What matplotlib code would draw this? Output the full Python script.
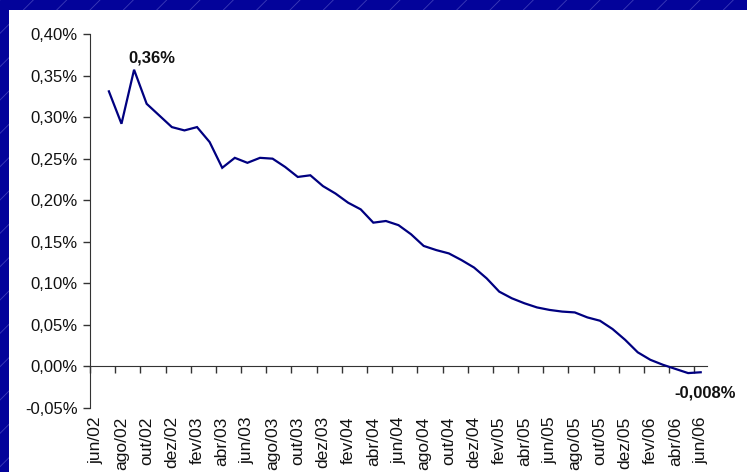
import numpy as np
import matplotlib
matplotlib.use("Agg")
import matplotlib.pyplot as plt
from matplotlib.patches import Rectangle
from matplotlib.ticker import FuncFormatter

plt.rcParams['font.family'] = ['Liberation Sans', 'DejaVu Sans']

# months jun/02 .. jun/06 (first month has no value)
months = ['jun/02', 'jul/02', 'ago/02', 'set/02', 'out/02', 'nov/02', 'dez/02',
          'jan/03', 'fev/03', 'mar/03', 'abr/03', 'mai/03', 'jun/03', 'jul/03',
          'ago/03', 'set/03', 'out/03', 'nov/03', 'dez/03', 'jan/04', 'fev/04',
          'mar/04', 'abr/04', 'mai/04', 'jun/04', 'jul/04', 'ago/04', 'set/04',
          'out/04', 'nov/04', 'dez/04', 'jan/05', 'fev/05', 'mar/05', 'abr/05',
          'mai/05', 'jun/05', 'jul/05', 'ago/05', 'set/05', 'out/05', 'nov/05',
          'dez/05', 'jan/06', 'fev/06', 'mar/06', 'abr/06', 'mai/06', 'jun/06']

# values in %
rate = [None, 0.331, 0.292, 0.357, 0.316, 0.302, 0.288, 0.284, 0.288, 0.270,
        0.239, 0.251, 0.245, 0.251, 0.250, 0.240, 0.228, 0.230, 0.217, 0.208,
        0.197, 0.189, 0.173, 0.175, 0.170, 0.159, 0.145, 0.140, 0.136, 0.128,
        0.119, 0.106, 0.090, 0.082, 0.076, 0.071, 0.068, 0.066, 0.065, 0.059,
        0.055, 0.045, 0.032, 0.017, 0.008, 0.002, -0.003, -0.008, -0.007]

max_label = '0,36%'
min_label = '-0,008%'

W, H = 747, 472
fig = plt.figure(figsize=(W / 100, H / 100), dpi=100)

# blue slide background with faint diagonal stripes
plt.rcParams['hatch.linewidth'] = 0.6
bg = Rectangle((0, 0), 1, 1, transform=fig.transFigure, facecolor='#03039a',
               edgecolor='#3c3cb8', hatch='/', linewidth=0, zorder=-10)
fig.patches.append(bg)
panel = Rectangle((9 / W, 0), 1, 1 - 10 / H, transform=fig.transFigure,
                  facecolor='white', edgecolor='none', zorder=-9)
fig.patches.append(panel)

ax = fig.add_axes([90 / W, (H - 408) / H, (707 - 90) / W, (408 - 34) / H])
ax.set_facecolor('none')

x = np.arange(len(months))
y = np.array(rate, dtype=float)
ax.plot(x, y, color='#000080', linewidth=1.6, solid_joinstyle='miter', zorder=3)

ax.set_xlim(-0.5, len(months) - 0.5)
ax.set_ylim(-0.05, 0.40)

ax.set_yticks(np.arange(-0.05, 0.401, 0.05))
ax.yaxis.set_major_formatter(FuncFormatter(lambda v, p: f'{v:.2f}%'.replace('.', ',')))
ax.tick_params(axis='y', direction='out', length=5, width=1, color='#333333',
               labelsize=12, pad=4, labelcolor='#111111')

for s in ['top', 'right']:
    ax.spines[s].set_visible(False)
ax.spines['left'].set_color('#333333')
ax.spines['bottom'].set_position(('data', 0))
ax.spines['bottom'].set_color('#333333')

ax.set_xticks(np.arange(-0.5, len(months) - 1, 2))
ax.tick_params(axis='x', direction='out', length=5, width=1, color='#333333',
               labelbottom=False)

sec = ax.secondary_xaxis(0)
sec.set_xticks(x[::2], labels=months[::2])
sec.spines['bottom'].set_visible(False)
sec.tick_params(length=0, pad=6, labelsize=12.5, labelcolor='#111111',
                rotation=90)

imax = int(np.nanargmax(y))
imin = int(np.nanargmin(y))
ax.annotate(max_label, (x[imax], y[imax]), xytext=(13, 3), textcoords='offset points',
            ha='center', va='bottom', fontsize=12, fontweight='bold', color='#111111')
ax.annotate(min_label, (x[imin], y[imin]), xytext=(12, -9), textcoords='offset points',
            ha='center', va='top', fontsize=12, fontweight='bold', color='#111111')

fig.savefig('out.png', dpi=100)
